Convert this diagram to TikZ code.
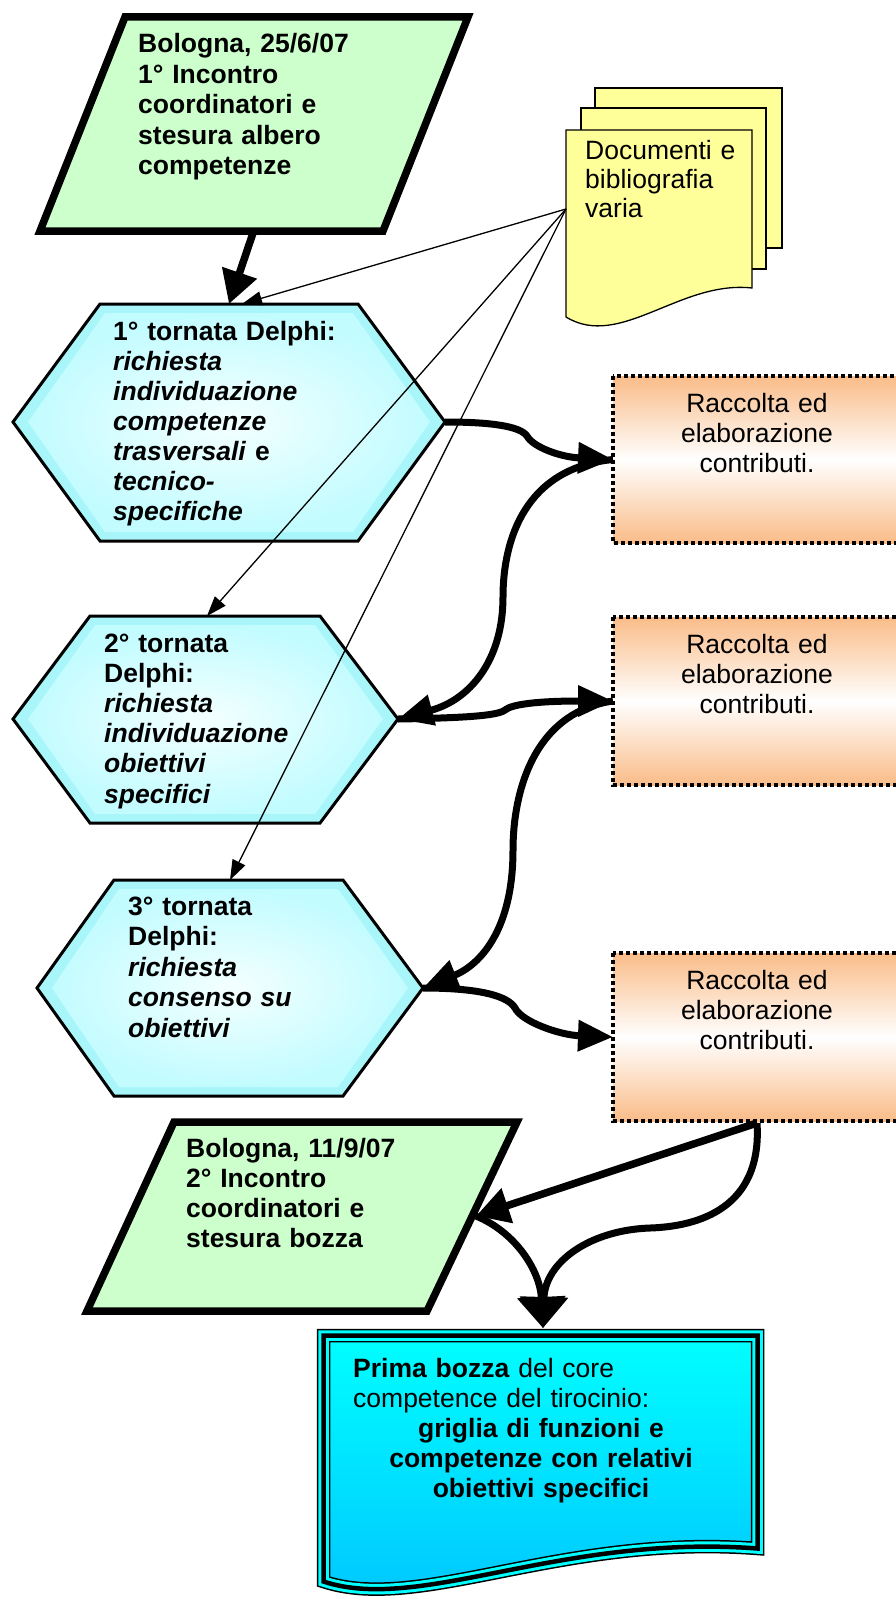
\documentclass[tikz,border=0pt]{standalone}
\usepackage{fontspec}
\setmainfont{Liberation Sans}
\usetikzlibrary{arrows.meta}

\definecolor{parafill}{RGB}{204,255,204}
\definecolor{hexedge}{RGB}{168,246,250}
\definecolor{hexin}{RGB}{194,252,255}
\definecolor{hexcore}{RGB}{244,255,255}
\definecolor{noteyellow}{RGB}{255,255,153}
\definecolor{boxorange}{RGB}{250,188,136}
\definecolor{doctop}{RGB}{0,255,255}
\definecolor{docbot}{RGB}{0,196,255}
\definecolor{docband}{RGB}{0,255,255}

% hexagon: #1 left x, #2 top-left x, #3 top-right x, #4 right x, #5 top y, #6 middle y, #7 bottom y
\newcommand\hexcell[7]{%
  \fill[hexedge] (#1,#6) -- (#2,#5) -- (#3,#5) -- (#4,#6) -- (#3,#7) -- (#2,#7) -- cycle;
  \shade[inner color=hexcore, outer color=hexin]
    ({#1+15},#6) -- ({#2+5},{#5+9}) -- ({#3-5},{#5+9}) -- ({#4-15},#6)
    -- ({#3-5},{#7-9}) -- ({#2+5},{#7-9}) -- cycle;
  \draw[line width=3pt, line join=miter]
    (#1,#6) -- (#2,#5) -- (#3,#5) -- (#4,#6) -- (#3,#7) -- (#2,#7) -- cycle;
}

\tikzset{
  txt/.style={inner sep=0pt, anchor=base west, align=left, text width=320pt,
    font=\fontsize{26.5}{#1}\selectfont\bfseries},
  txt/.default=30.5,
  plaintxt/.style={inner sep=0pt, anchor=base west, align=left, text width=320pt,
    font=\fontsize{26.5}{#1}\selectfont},
  plaintxt/.default=30.2,
  ctxt/.style={inner sep=0pt, anchor=base, align=center, text width=360pt,
    font=\fontsize{26.5}{#1}\selectfont},
  ctxt/.default=30,
  para/.style={fill=parafill, draw=black, line width=7.5pt, line join=miter},
  sheet/.style={fill=noteyellow, draw=black, line width=1.3pt, line join=miter},
  orangebox/.style={top color=boxorange, bottom color=boxorange, middle color=white,
    draw=black, line width=4pt, dash pattern=on 4pt off 3pt},
  flow/.style={line width=7pt, -{Triangle[length=35pt,width=30pt]}},
  flowbig/.style={line width=7.5pt, -{Triangle[length=33pt,width=35pt]}},
  flowdoc/.style={line width=7pt, -{Triangle[length=31pt,width=47pt]}},
  thinflow/.style={line width=1.3pt, -{Triangle[length=20pt,width=14pt]}},
}

\begin{document}
\begin{tikzpicture}[x=1pt, y=-1pt]
\useasboundingbox (0,0) rectangle (896,1600);
\clip (0,0) rectangle (896,1600);

% first meeting
\draw[para] (125,17) -- (468,17) -- (383,231) -- (40,231) -- cycle;
\node[txt] (meet1) at (138,53)
  {Bologna, 25/6/07\\1° Incontro\\coordinatori e\\stesura albero\\competenze};
\coordinate (p1B) at (253,233);

% stack of documents
\draw[sheet] (595,88) rectangle (782,248);
\draw[sheet] (581,108) rectangle (766,269);
\draw[sheet] (566,130) -- (752,130) -- (752,288)
  .. controls (680,280) and (620,350) .. (566,317) -- cycle;
\node[plaintxt=28.5] (docs) at (585,160) {Documenti e\\bibliografia\\varia};
\coordinate (docL) at (566,209);

% Delphi rounds
\hexcell{13}{100}{358}{445}{304}{422}{541}
\node[txt=30] (round1) at (113,340)
  {1° tornata Delphi:\\\textit{richiesta}\\\textit{individuazione}\\\textit{competenze}\\\textit{trasversali} e\\\textit{tecnico-}\\\textit{specifiche}};
\coordinate (h1T) at (229,304);
\coordinate (h1Tb) at (242,304);
\coordinate (h1R) at (445,422);

\hexcell{13}{90}{320}{398}{616}{719}{823}
\node[txt=30.2] (round2) at (104,652)
  {2° tornata\\Delphi:\\\textit{richiesta}\\\textit{individuazione}\\\textit{obiettivi}\\\textit{specifici}};
\coordinate (h2T) at (207,616);
\coordinate (h2R) at (398,719);

\hexcell{37}{114}{343}{423}{880}{988}{1096}
\node[txt=30.5] (round3) at (128,915)
  {3° tornata\\Delphi:\\\textit{richiesta}\\\textit{consenso su}\\\textit{obiettivi}};
\coordinate (h3T) at (230,880);
\coordinate (h3R) at (423,988);

% collection boxes
\draw[orangebox] (613,376) rectangle (905,543);
\node[ctxt] (coll1) at (757,412) {Raccolta ed\\elaborazione\\contributi.};
\coordinate (b1L) at (613,459.5);

\draw[orangebox] (613,617) rectangle (905,785);
\node[ctxt] (coll2) at (757,653) {Raccolta ed\\elaborazione\\contributi.};
\coordinate (b2L) at (613,701);

\draw[orangebox] (613,953) rectangle (905,1121);
\node[ctxt] (coll3) at (757,989) {Raccolta ed\\elaborazione\\contributi.};
\coordinate (b3L) at (613,1037);
\coordinate (b3B) at (757,1123);

% second meeting
\draw[para] (174,1122) -- (517,1122) -- (427,1311) -- (87,1311) -- cycle;
\node[txt=30.3] (meet2) at (186,1157)
  {Bologna, 11/9/07\\2° Incontro\\coordinatori e\\stesura bozza};
\coordinate (p2R) at (476,1216);

% final draft document
\shade[top color=doctop, bottom color=docbot]
  (323.5,1335.5) -- (757.5,1335.5) -- (757.5,1548.5)
  .. controls (560,1533.5) and (420,1613.5) .. (323.5,1581.5) -- cycle;
\foreach \w/\c in {13.5/black, 10.5/docband, 4.5/black}
  \draw[line width=\w pt, draw=\c, line join=miter]
    (323.5,1335.5) -- (757.5,1335.5) -- (757.5,1548.5)
    .. controls (560,1533.5) and (420,1613.5) .. (323.5,1581.5) -- cycle;
\node[plaintxt] (draft1) at (353,1377)
  {\textbf{Prima bozza} del core\\competence del tirocinio:};
\node[ctxt=30.3, font=\fontsize{26.5}{30.3}\selectfont\bfseries] (draft2) at (541,1437)
  {griglia di funzioni e\\competenze con relativi\\obiettivi specifici};
\coordinate (docT) at (543,1328);

% connectors
\draw[flowbig] (p1B) -- (h1T);
\draw[thinflow] (docL) -- (h1Tb);
\draw[thinflow] (docL) -- (h2T);
\draw[thinflow] (docL) -- (h3T);

\draw[flow] (h1R) .. controls (490,422) and (520,426) .. (527,436)
  .. controls (533,447) and (560,457) .. (b1L);
\draw[flow] (b1L) .. controls (525,468) and (503,540) .. (503,597)
  .. controls (503,660) and (470,700) .. (h2R);
\draw[flow] (h2R) .. controls (460,718) and (498,716) .. (505,710)
  .. controls (512,704) and (540,701) .. (b2L);
\draw[flow] (b2L) .. controls (535,712) and (513,790) .. (513,850)
  .. controls (513,930) and (480,965) .. (h3R);
\draw[flow] (h3R) .. controls (480,988) and (508,996) .. (515,1008)
  .. controls (522,1022) and (560,1035) .. (b3L);
\draw[flowbig] (b3B) -- (p2R);
\draw[flowdoc] (b3B) .. controls (762,1200) and (710,1226) .. (650,1228)
  .. controls (590,1230) and (545,1262) .. (docT);
\draw[flowdoc] (p2R) .. controls (515,1232) and (540,1270) .. (docT);
\end{tikzpicture}
\end{document}
